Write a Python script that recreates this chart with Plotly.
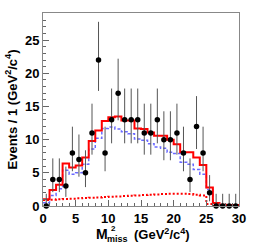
import plotly.graph_objects as go

# bin centres (1 GeV^2/c^4 bins from 0 to 30)
bin_centers = [i + 0.5 for i in range(30)]
bin_edges = [float(i) for i in range(31)]

# data points (events per bin)
data_counts = [0, 4, 4, 3, 8, 7, 5, 11, 22, 8,
               13, 17, 13, 13, 13, 11, 11, 13, 10, 10,
               11, 8, 4, 12, 8, 2, 0, 0, 0, 0]
# asymmetric Poisson errors
err_up = [1.84, 3.18, 3.18, 2.94, 3.96, 3.78, 3.40, 4.43, 5.77, 3.96,
          4.71, 5.21, 4.71, 4.71, 4.71, 4.43, 4.43, 4.71, 4.28, 4.28,
          4.43, 3.96, 3.18, 4.57, 3.96, 2.66, 1.84, 1.84, 1.84, 1.84]
err_dn = [0.0, 1.91, 1.91, 1.63, 2.76, 2.58, 2.15, 3.26, 4.65, 2.76,
          3.55, 4.08, 3.55, 3.55, 3.55, 3.26, 3.26, 3.55, 3.10, 3.10,
          3.26, 2.76, 1.91, 3.41, 2.76, 1.29, 0.0, 0.0, 0.0, 0.0]

# total fit (red solid)
total_fit = [1.0, 2.4, 3.2, 6.4, 5.8, 6.1, 7.3, 9.8, 11.4, 12.8,
             13.4, 13.5, 12.9, 12.9, 11.7, 11.6, 11.1, 10.6, 10.6, 10.0,
             9.3, 8.1, 8.1, 7.3, 6.2, 2.8, 0.45, 0.2, 0.15, 0.15]
# signal component (blue dashed)
signal = [0.5, 1.6, 2.6, 5.4, 4.8, 5.0, 6.3, 8.6, 10.2, 11.7,
          11.9, 11.6, 11.2, 10.9, 10.1, 9.9, 9.4, 8.9, 8.7, 8.1,
          7.9, 6.6, 6.3, 5.5, 4.8, 2.5, 0.4, 0.2, 0.1, 0.1]
# background component (red dotted)
background = [0.9, 0.95, 1.0, 1.05, 1.1, 1.15, 1.2, 1.25, 1.3, 1.35,
              1.4, 1.45, 1.5, 1.55, 1.6, 1.65, 1.7, 1.75, 1.8, 1.85,
              1.85, 1.85, 1.8, 1.7, 1.6, 0.3, 0.0, 0.0, 0.0, 0.0]

y_ticks = [0, 5, 10, 15, 20, 25]
x_ticks = [0, 5, 10, 15, 20, 25, 30]


def step(vals):
    return bin_edges, vals + [vals[-1]]


FONT = "Liberation Sans, Arial, sans-serif"

fig = go.Figure()

bx, by = step(background)
fig.add_trace(go.Scatter(x=bx, y=by, mode="lines", line_shape="hv",
                         line=dict(color="#ff0000", width=2, dash="2px,2px"),
                         showlegend=False, hoverinfo="skip"))
sx, sy = step(signal)
fig.add_trace(go.Scatter(x=sx, y=sy, mode="lines", line_shape="hv",
                         line=dict(color="#6a6aff", width=1.5, dash="3px,2px"),
                         showlegend=False, hoverinfo="skip"))
tx, ty = step(total_fit)
fig.add_trace(go.Scatter(x=tx, y=ty, mode="lines", line_shape="hv",
                         line=dict(color="#ff0000", width=2),
                         showlegend=False, hoverinfo="skip"))
fig.add_trace(go.Scatter(
    x=bin_centers, y=data_counts, mode="markers",
    marker=dict(color="black", size=5.5),
    error_y=dict(type="data", symmetric=False, array=err_up, arrayminus=err_dn,
                 color="#555555", thickness=1, width=0),
    showlegend=False, hoverinfo="skip", cliponaxis=False))

tick_font = dict(family=FONT, size=13, color="black")
title_font = dict(family=FONT, size=13, color="black")

fig.update_layout(
    width=258, height=245,
    margin=dict(l=43, r=14, t=12, b=39),
    paper_bgcolor="white", plot_bgcolor="white",
    xaxis=dict(range=[0, 30], tickvals=x_ticks, ticktext=[f"<b>{v}</b>" for v in x_ticks],
               ticks="inside", ticklen=6, tickcolor="#666666",
               minor=dict(ticks="inside", ticklen=3, dtick=1, tickcolor="#666666"),
               showline=True, linecolor="#888888", linewidth=1, mirror=True,
               showgrid=False, zeroline=False, tickfont=tick_font),
    yaxis=dict(range=[0, 29.1], tickvals=y_ticks, ticktext=[f"<b>{v}</b>" for v in y_ticks],
               ticks="inside", ticklen=6, tickcolor="#666666",
               minor=dict(ticks="inside", ticklen=3, dtick=1, tickcolor="#666666"),
               showline=True, linecolor="#888888", linewidth=1, mirror=True,
               showgrid=False, zeroline=False, tickfont=tick_font,
               title=dict(text="<b>Events / 1 (GeV<sup>2</sup>/c<sup>4</sup>)</b>",
                          font=title_font, standoff=4)),
)

# x-axis title with stacked super/subscript (positions in paper units + pixel shifts)
fig.add_annotation(text="<b>M</b>", xref="paper", yref="paper", x=0.303, y=0,
                   yshift=-27.5, xanchor="center", yanchor="middle", showarrow=False,
                   font=dict(family=FONT, size=14, color="black"))
fig.add_annotation(text="<b>2</b>", xref="paper", yref="paper", x=0.338, y=0,
                   yshift=-22.5, xanchor="left", yanchor="middle", showarrow=False,
                   font=dict(family=FONT, size=8, color="black"))
fig.add_annotation(text="<b>miss</b>", xref="paper", yref="paper", x=0.318, y=0,
                   yshift=-33, xanchor="left", yanchor="middle", showarrow=False,
                   font=dict(family=FONT, size=9, color="black"))
fig.add_annotation(text="<b>(GeV<sup>2</sup>/c<sup>4</sup>)</b>", xref="paper", yref="paper",
                   x=0.455, y=0, yshift=-28, xanchor="left", yanchor="middle",
                   showarrow=False, font=dict(family=FONT, size=13, color="black"))

fig.write_html("out.html", config={"displayModeBar": False},
               post_script="document.body.style.margin='0';")
